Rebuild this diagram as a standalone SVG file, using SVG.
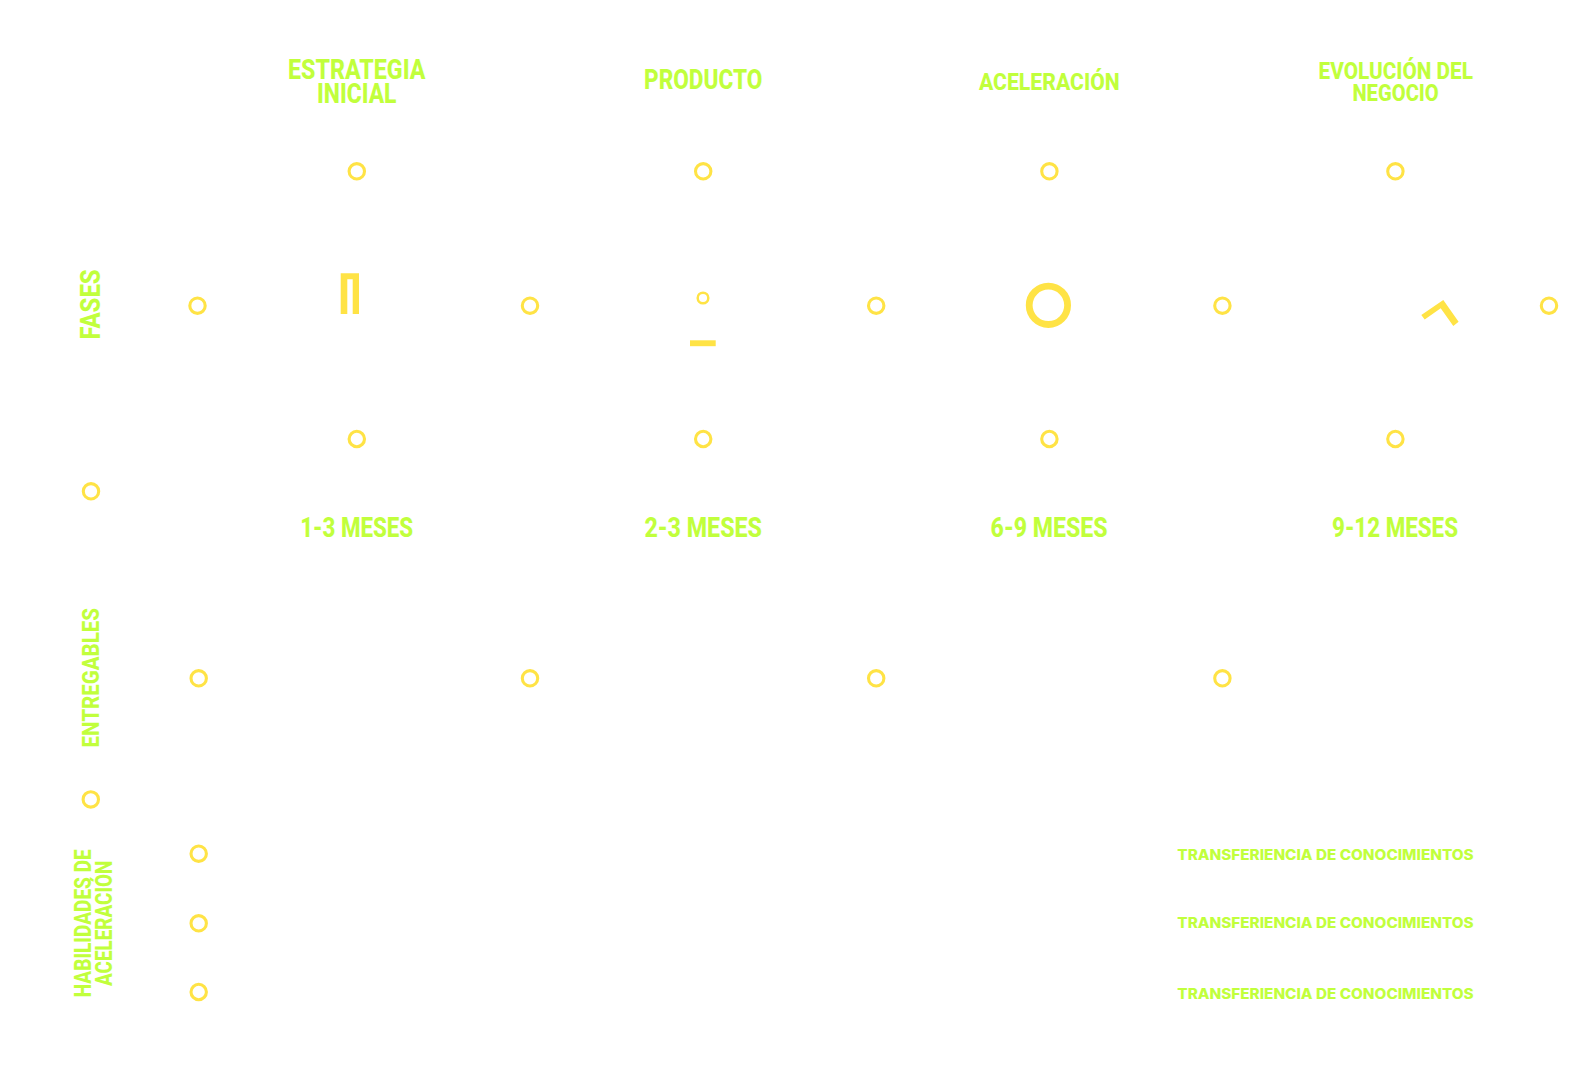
<svg xmlns="http://www.w3.org/2000/svg" width="1593" height="1067" viewBox="0 0 1593 1067">
  <style>
    .t { font-family: "Roboto", "Liberation Sans", sans-serif; font-weight: 800; fill: #c1ff3c; }
    .s { font-family: "Inter", "Liberation Sans", sans-serif; font-weight: 800; fill: #c1ff3c; font-size: 14px; }
    .dot { fill: none; stroke: #ffe345; stroke-width: 3.1; }
    .mark { fill: #ffe345; }
  </style>
  <rect width="1593" height="1067" fill="#ffffff"/>

  <g id="phase-titles">
    <text class="t" x="288" y="78.6" font-size="28" textLength="137.5" lengthAdjust="spacingAndGlyphs">ESTRATEGIA</text>
    <text class="t" x="317" y="103.4" font-size="28" textLength="79.5" lengthAdjust="spacingAndGlyphs">INICIAL</text>
    <text class="t" x="644" y="89.4" font-size="28" textLength="118.4" lengthAdjust="spacingAndGlyphs">PRODUCTO</text>
    <text class="t" x="979" y="89.6" font-size="24.6" textLength="140.7" lengthAdjust="spacingAndGlyphs">ACELERACIÓN</text>
    <text class="t" x="1318.5" y="78.6" font-size="23.6" textLength="154.5" lengthAdjust="spacingAndGlyphs">EVOLUCIÓN DEL</text>
    <text class="t" x="1352.4" y="100.6" font-size="23.6" textLength="86.4" lengthAdjust="spacingAndGlyphs">NEGOCIO</text>
  </g>

  <g id="durations">
    <text class="t" x="300.2" y="537" font-size="28" textLength="113" lengthAdjust="spacingAndGlyphs">1-3 MESES</text>
    <text class="t" x="644.4" y="537" font-size="28" textLength="117.6" lengthAdjust="spacingAndGlyphs">2-3 MESES</text>
    <text class="t" x="990.6" y="537" font-size="28" textLength="117" lengthAdjust="spacingAndGlyphs">6-9 MESES</text>
    <text class="t" x="1332" y="537" font-size="28" textLength="126" lengthAdjust="spacingAndGlyphs">9-12 MESES</text>
  </g>

  <g id="row-labels">
    <text class="t" transform="translate(99.5 339.4) rotate(-90)" font-size="28" textLength="70" lengthAdjust="spacingAndGlyphs">FASES</text>
    <text class="t" transform="translate(99.3 747.4) rotate(-90)" font-size="24.5" textLength="139.4" lengthAdjust="spacingAndGlyphs">ENTREGABLES</text>
    <text class="t" transform="translate(91 997.3) rotate(-90)" font-size="23" textLength="148" lengthAdjust="spacingAndGlyphs">HABILIDADES DE</text>
    <text class="t" transform="translate(111.7 986) rotate(-90)" font-size="23" textLength="125.3" lengthAdjust="spacingAndGlyphs">ACELERACIÓN</text>
  </g>

  <g id="knowledge-transfer">
    <text class="s" x="1177.3" y="860.3" textLength="296.4" lengthAdjust="spacingAndGlyphs">TRANSFERIENCIA DE CONOCIMIENTOS</text>
    <text class="s" x="1177.3" y="928.3" textLength="296.4" lengthAdjust="spacingAndGlyphs">TRANSFERIENCIA DE CONOCIMIENTOS</text>
    <text class="s" x="1177.3" y="999.3" textLength="296.4" lengthAdjust="spacingAndGlyphs">TRANSFERIENCIA DE CONOCIMIENTOS</text>
  </g>

  <g id="markers">
    <circle class="dot" cx="356.8" cy="171.3" r="7.7"/>
    <circle class="dot" cx="703.2" cy="171.3" r="7.7"/>
    <circle class="dot" cx="1049.4" cy="171.3" r="7.7"/>
    <circle class="dot" cx="1395.4" cy="171.3" r="7.7"/>

    <circle class="dot" cx="197.5" cy="305.7" r="7.7"/>
    <circle class="dot" cx="530" cy="305.7" r="7.7"/>
    <circle class="dot" cx="876.2" cy="305.7" r="7.7"/>
    <circle class="dot" cx="1222.4" cy="305.7" r="7.7"/>
    <circle class="dot" cx="1549" cy="305.7" r="7.7"/>

    <circle class="dot" cx="356.8" cy="439" r="7.7"/>
    <circle class="dot" cx="703.2" cy="439" r="7.7"/>
    <circle class="dot" cx="1049.4" cy="439" r="7.7"/>
    <circle class="dot" cx="1395.4" cy="439" r="7.7"/>

    <circle class="dot" cx="91" cy="491.3" r="7.7"/>

    <circle class="dot" cx="198.7" cy="678.3" r="7.7"/>
    <circle class="dot" cx="530" cy="678.3" r="7.7"/>
    <circle class="dot" cx="876.2" cy="678.3" r="7.7"/>
    <circle class="dot" cx="1222.4" cy="678.3" r="7.7"/>

    <circle class="dot" cx="90.8" cy="799.4" r="7.7"/>

    <circle class="dot" cx="198.7" cy="853.7" r="7.7"/>
    <circle class="dot" cx="198.7" cy="923.3" r="7.7"/>
    <circle class="dot" cx="198.7" cy="992" r="7.7"/>
  </g>

  <g id="glyph-marks">
    <path class="mark" d="M340.7 273.3H359V314H352.7V279.3H347.3V314H340.7Z"/>
    <circle cx="703" cy="298" r="5.3" fill="none" stroke="#ffe345" stroke-width="2.5"/>
    <rect class="mark" x="690" y="340.3" width="25.7" height="5.9"/>
    <circle cx="1048.4" cy="305.3" r="19.2" fill="none" stroke="#ffe345" stroke-width="6.8"/>
    <polygon class="mark" points="1421.3,315 1443.3,300 1458.6,321.7 1453.3,326 1440.7,308.2 1424.7,319.6"/>
  </g>
</svg>
